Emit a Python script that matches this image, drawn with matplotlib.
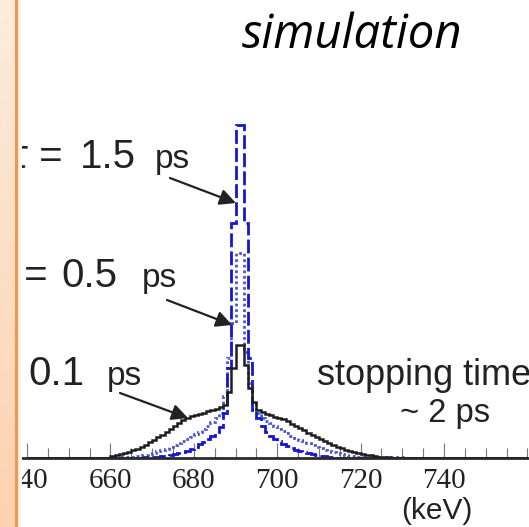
#!/usr/bin/env python3
"""
Simulated gamma line shapes for different stopping times
"""

import numpy as np
import matplotlib
matplotlib.use('Agg')
import matplotlib.pyplot as plt

W, H = 529, 527

# 1 keV bins, left edges 640 ... 759
edges = np.arange(640, 761, 1)

# bin contents, keyed by left bin edge (keV)
tau_01 = {660: 2, 661: 3, 662: 4, 663: 5, 664: 6, 665: 8, 666: 9, 667: 11, 668: 13,
          669: 16, 670: 18, 671: 21, 672: 23, 673: 26, 674: 29, 675: 32, 676: 35,
          677: 38, 678: 40, 679: 42, 680: 43, 681: 44, 682: 45, 683: 47, 684: 48,
          685: 49, 686: 51, 687: 53, 688: 66, 689: 90, 690: 113, 691: 113, 692: 93,
          693: 70, 694: 56, 695: 48, 696: 46, 697: 44, 698: 43, 699: 41, 700: 40,
          701: 39, 702: 37, 703: 34, 704: 32, 705: 30, 706: 28, 707: 25, 708: 23,
          709: 21, 710: 19, 711: 17, 712: 15, 713: 13, 714: 11, 715: 10, 716: 8,
          717: 7, 718: 6, 719: 5, 720: 4, 721: 3, 722: 3, 723: 2, 724: 1, 725: 1,
          726: 1, 727: 0.5, 728: 0.5, 729: 0.5, 730: 0.5}
tau_05 = {660: 0.5, 661: 0.5, 662: 1, 663: 1, 664: 1.5, 665: 1.5, 666: 2, 667: 3,
          668: 3.5, 669: 4.5, 670: 5.5, 671: 7, 672: 8, 673: 9.5, 674: 11, 675: 13,
          676: 15, 677: 17, 678: 19, 679: 21, 680: 24, 681: 26, 682: 29, 683: 32,
          684: 36, 685: 40, 686: 45, 687: 62, 688: 100, 689: 135, 690: 205, 691: 205,
          692: 106, 693: 75, 694: 55, 695: 45, 696: 40, 697: 37, 698: 35, 699: 32,
          700: 29, 701: 27, 702: 25, 703: 22, 704: 20, 705: 18, 706: 17, 707: 15,
          708: 13, 709: 11.5, 710: 10, 711: 8.5, 712: 7, 713: 6, 714: 5, 715: 4,
          716: 3, 717: 2.5, 718: 2, 719: 1.5, 720: 1, 721: 1, 722: 1, 723: 1,
          724: 1, 725: 1, 726: 1, 727: 1, 728: 1, 729: 1, 730: 1}
tau_15 = {665: 0.5, 666: 0.5, 667: 0.5, 668: 1, 669: 1, 670: 1.5, 671: 1.5, 672: 2,
          673: 2.5, 674: 3, 675: 4, 676: 5, 677: 6, 678: 7, 679: 9, 680: 11, 681: 14,
          682: 16, 683: 19, 684: 22, 685: 26, 686: 31, 687: 45, 688: 90, 689: 235,
          690: 333, 691: 333, 692: 235, 693: 100, 694: 48, 695: 40, 696: 32, 697: 26,
          698: 22, 699: 19, 700: 17, 701: 14, 702: 12, 703: 10, 704: 8.5, 705: 7,
          706: 6, 707: 5, 708: 4, 709: 3, 710: 2.5, 711: 2, 712: 1.5, 713: 1}

major_ticks = [640, 660, 680, 700, 720, 740]
tick_labels = ['640', '660', '680', '700', '720', '740']


def to_array(d, fill=0.0):
    return np.array([d.get(e, fill) for e in edges[:-1]], dtype=float)


def fx(x):
    return x / W


def fy(y):
    return 1 - y / H


fig = plt.figure(figsize=(W / 100, H / 100), dpi=100)
fig.patch.set_facecolor('white')

ax = fig.add_axes([0, fy(458), 1, (458 - 100) / H])
ax.set_xlim(640 - 27 / 4.17, 640 + 502 / 4.17)
ax.set_ylim(0, 358)

ax.stairs(to_array(tau_01), edges, color='#1e1e1e', lw=1.8, zorder=3)
ax.stairs(to_array(tau_05, 0.3), edges, color='#4b58cc', lw=2.0,
          linestyle=(0, (1, 1)), zorder=2)
ax.stairs(to_array(tau_15, 0.3), edges, color='#1616d6', lw=2.0,
          linestyle=(0, (5, 1.5)), zorder=2)

for s in ['top', 'left', 'right']:
    ax.spines[s].set_visible(False)
ax.spines['bottom'].set_color('#2a2a2a')
ax.spines['bottom'].set_linewidth(2)
ax.set_yticks([])
ax.set_xticks(major_ticks)
ax.set_xticklabels(tick_labels, family='Liberation Serif', fontsize=21,
                   color='#222222')
ax.set_xticks(np.arange(640, 761, 5), minor=True)
ax.tick_params(axis='x', which='major', direction='in', length=11, width=0.8,
               color='#777777', pad=7)
ax.tick_params(axis='x', which='minor', direction='in', length=7, width=0.8,
               color='#777777')

# labels with pointers
big = dict(family='Liberation Sans', fontsize=29, color='#222222', va='baseline')
small = dict(family='Liberation Sans', fontsize=24, color='#222222', va='baseline')
fig.text(fx(63), fy(168), '\u03c4 =', ha='right', **big)
fig.text(fx(80), fy(168), '1.5', ha='left', **big)
fig.text(fx(155), fy(168), 'ps', ha='left', **small)
fig.text(fx(48), fy(287), '\u03c4 =', ha='right', **big)
fig.text(fx(61), fy(287), '0.5', ha='left', **big)
fig.text(fx(142), fy(287), 'ps', ha='left', **small)
fig.text(fx(12), fy(385), '\u03c4 =', ha='right', **big)
fig.text(fx(28), fy(385), '0.1', ha='left', **big)
fig.text(fx(107), fy(385), 'ps', ha='left', **small)

arrow = dict(arrowstyle='-|>', color='#222222', lw=1.6, mutation_scale=24,
             shrinkA=0, shrinkB=0)
ax.annotate('', xy=(690.1, 255), xycoords='data',
            xytext=(fx(170), fy(178)), textcoords='figure fraction', arrowprops=arrow)
ax.annotate('', xy=(689.2, 133), xycoords='data',
            xytext=(fx(167), fy(300)), textcoords='figure fraction', arrowprops=arrow)
ax.annotate('', xy=(678.6, 40), xycoords='data',
            xytext=(fx(120), fy(393)), textcoords='figure fraction', arrowprops=arrow)

fig.text(fx(317), fy(385), 'stopping time', ha='left', va='baseline',
         family='Liberation Sans', fontsize=26, color='#222222')
fig.text(fx(445), fy(422), '~ 2 ps', ha='center', va='baseline',
         family='Liberation Sans', fontsize=23.5, color='#222222')
fig.text(fx(437), fy(519), '(keV)', ha='center', va='baseline',
         family='Liberation Sans', fontsize=21.5, color='#222222')

fig.text(fx(242), fy(48), 'simulation', ha='left', va='baseline',
         family='Open Sans', style='italic', fontsize=34, color='black')

# slide side bar
bar = fig.add_axes([0, 0, 16 / W, 1], zorder=10)
grad = np.linspace(0, 1, 256).reshape(-1, 1)
top_c = np.array([253, 236, 222]) / 255
bot_c = np.array([253, 210, 175]) / 255
img = top_c + grad[..., None] * (bot_c - top_c)
bar.imshow(img, aspect='auto', extent=[0, 1, 0, 1])
bar.axis('off')
shadow = fig.add_axes([16 / W, 0, 6 / W, 1], zorder=9)
sh = np.linspace(0.88, 1.0, 64).reshape(1, -1)
shadow.imshow(np.repeat(sh, 4, axis=0), cmap='gray', vmin=0, vmax=1,
              aspect='auto', extent=[0, 1, 0, 1])
shadow.axis('off')
fig.add_artist(plt.Line2D([fx(15.5), fx(15.5)], [0, 1], color='#f79646', lw=2.2,
                          zorder=11))

plt.savefig('out.png', dpi=100)
plt.close()
